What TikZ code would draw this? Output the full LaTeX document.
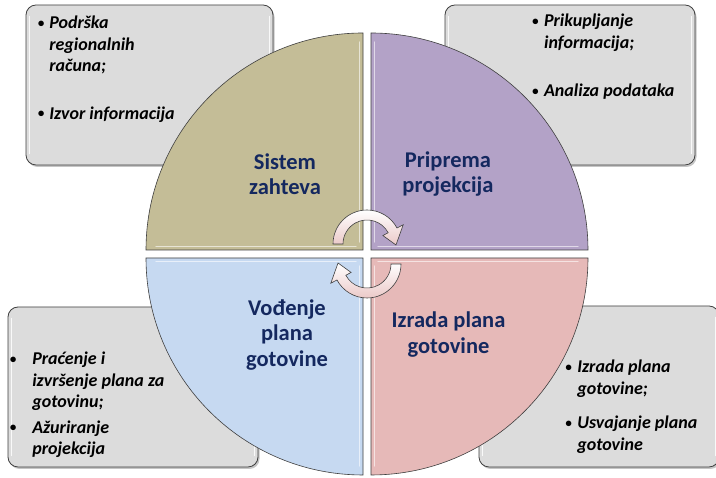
\documentclass[tikz,border=0pt]{standalone}
\usepackage{fontspec}
\setmainfont{Carlito}
\usepackage{tikz}
\usetikzlibrary{calc,shadows}
\definecolor{QuadTan}{HTML}{C4BD97}
\definecolor{QuadPurple}{HTML}{B3A2C7}
\definecolor{QuadBlue}{HTML}{C6D9F1}
\definecolor{QuadPink}{HTML}{E6B9B8}
\definecolor{BoxGray}{HTML}{DCDCDC}
\definecolor{EdgeGray}{HTML}{3F3F3F}
\definecolor{LabelNavy}{HTML}{14285F}
\definecolor{ArrowPink}{HTML}{EBC9C8}
\newcommand{\Bul}{\raisebox{1.5pt}{\fontsize{13}{13}\selectfont\textbullet}}
\tikzset{
  QD/.style={draw=EdgeGray,line width=0.6pt},
  qT/.style={QD,fill=QuadTan},
  qP/.style={QD,fill=QuadPurple},
  qB/.style={QD,fill=QuadBlue},
  qR/.style={QD,fill=QuadPink},
  BX/.style={rectangle,rounded corners=10pt,draw=EdgeGray,line width=0.8pt,
             fill=BoxGray,inner sep=0pt,
             drop shadow={shadow xshift=1.5pt,shadow yshift=-2pt,opacity=0.45}},
  HL/.style={white,line width=1.6pt,line cap=round,opacity=0.85},
  QL/.style={white,line width=1.2pt,line cap=round,opacity=0.6},
  LB/.style={align=center,inner sep=0pt,text=LabelNavy,
             font=\fontsize{22.5}{25.5}\selectfont\bfseries},
  TX/.style={anchor=base west,inner sep=0pt,
             font=\fontsize{18}{21.5}\selectfont\bfseries\itshape},
  AR/.style={draw=EdgeGray,line width=0.6pt,top color=white,bottom color=ArrowPink}
}

\begin{document}
\begin{tikzpicture}[x=1pt,y=1pt]
  \useasboundingbox (0,0) rectangle (716,478);
  \fill[white] (0,0) rectangle (716,478);

  % side boxes
  \node[BX,minimum width=247pt,minimum height=160pt] (boxTL) at (149.5,393) {};
  \node[BX,minimum width=250pt,minimum height=160pt] (boxTR) at (570,393) {};
  \node[BX,minimum width=250pt,minimum height=160pt] (boxBL) at (133,91) {};
  \node[BX,minimum width=240pt,minimum height=161pt] (boxBR) at (599,91.5) {};
  \foreach \b in {boxTL,boxTR,boxBL,boxBR}{
    \draw[HL] ($(\b.north west)+(4,-12)$) -- ($(\b.south west)+(4,12)$);
    \draw[HL] ($(\b.north east)+(-4,-12)$) -- ($(\b.south east)+(-4,12)$);
  }

  % quadrants
  \draw[qT] (363,228) -- (146,228) arc[start angle=180,end angle=90,radius=217] -- cycle;
  \draw[qP] (371,228) -- (371,445) arc[start angle=90,end angle=0,radius=217] -- cycle;
  \draw[qB] (363,220) -- (363,3) arc[start angle=270,end angle=180,radius=217] -- cycle;
  \draw[qR] (371,220) -- (588,220) arc[start angle=0,end angle=-90,radius=217] -- cycle;
  \draw[QL] (359.5,236) -- (359.5,436) (156,231.5) -- (356,231.5);
  \draw[QL] (374.5,236) -- (374.5,436) (378,231.5) -- (578,231.5);
  \draw[QL] (359.5,212) -- (359.5,12) (156,216.5) -- (356,216.5);
  \draw[QL] (374.5,212) -- (374.5,12) (378,216.5) -- (578,216.5);

  \node[LB] (sistem) at (285,304) {Sistem\\zahteva};
  \node[LB] (priprema) at (448,304) {Priprema\\projekcija};
  \node[LB] (vodjenje) at (287,143) {Vođenje\\plana\\gotovine};
  \node[LB] (izrada) at (448.5,143.5) {Izrada plana\\gotovine};

  % cycle arrows
  \coordinate (cTop) at (367,234);
  \coordinate (cBot) at (367,214);
  \path[AR] ($(cTop)+(180:34)$) arc[start angle=180,end angle=28,radius=34]
    -- ($(cTop)+(28:41)$) -- ($(cTop)+(-2:29)$) -- ($(cTop)+(28:18)$)
    -- ($(cTop)+(28:24)$) arc[start angle=28,end angle=180,radius=24] -- cycle;
  \path[AR] ($(cBot)+(0:34)$) arc[start angle=0,end angle=-152,radius=34]
    -- ($(cBot)+(-152:41)$) -- ($(cBot)+(178:29)$) -- ($(cBot)+(-152:18)$)
    -- ($(cBot)+(-152:24)$) arc[start angle=-152,end angle=0,radius=24] -- cycle;

  % box texts
  \node[TX] (txtTL) at ($(boxTL.north west)+(12,-24)$)
    {\begin{tabular}[t]{@{}l@{\hspace{5pt}}l@{}}
      \Bul & Podrška\\ & regionalnih\\ & računa;\\[26pt]
      \Bul & Izvor informacija
    \end{tabular}};
  \node[TX] (txtTR) at ($(boxTR.north east)+(-163.5,-22)$)
    {\begin{tabular}[t]{@{}l@{\hspace{5.5pt}}l@{}}
      \Bul & Prikupljanje\\ & informacija;\\[27pt]
      \Bul & Analiza podataka
    \end{tabular}};
  \node[TX] (txtBL) at ($(boxBL.north west)+(2,-58)$)
    {\begin{tabular}[t]{@{}l@{\hspace{16pt}}l@{}}
      \Bul & Praćenje i\\ & izvršenje plana za\\ & gotovinu;\\[4pt]
      \Bul & Ažuriranje\\ & projekcija
    \end{tabular}};
  \node[TX] (txtBR) at ($(boxBR.north west)+(86.5,-67)$)
    {\begin{tabular}[t]{@{}l@{\hspace{5.5pt}}l@{}}
      \Bul & Izrada plana\\ & gotovine;\\[13pt]
      \Bul & Usvajanje plana\\ & gotovine
    \end{tabular}};
\end{tikzpicture}
\end{document}
